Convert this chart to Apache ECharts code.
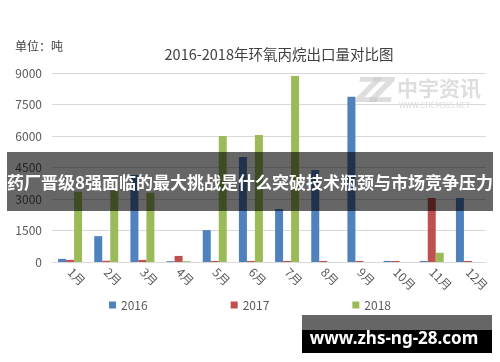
<!DOCTYPE html>
<html><head><meta charset="utf-8">
<script src="https://cdn.jsdelivr.net/npm/echarts@6/dist/echarts.min.js"></script>
<style>html,body{margin:0;padding:0;background:#fff}#c{width:500px;height:362px}</style>
</head><body><div id="c"></div>
<script>
const categories = ['1月','2月','3月','4月','5月','6月','7月','8月','9月','10月','11月','12月'];
const s2016 = [150, 1230, 4140, 40, 1520, 5000, 2520, 4380, 7870, 50, 50, 3050];
const s2017 = [100, 60, 100, 290, 50, 50, 50, 50, 50, 50, 3050, 50];
const s2018 = [3350, 3400, 3300, 40, 6000, 6050, 8860, null, null, null, 440, null];
const yTicks = {min: 0, max: 9000, interval: 1500};
const seriesNames = ['2016', '2017', '2018'];
const colors = ['#4f81bd', '#c0504d', '#9bbb59'];
const font = '"Noto Sans CJK SC", "Noto Sans", sans-serif';

const chart = echarts.init(document.getElementById('c'));
chart.setOption({
  animation: false,
  color: colors,
  textStyle: {fontFamily: font},
  title: {
    text: '2016-2018年环氧丙烷出口量对比图',
    left: 274, top: 42, textAlign: 'center',
    textStyle: {fontSize: 14.5, fontWeight: 'normal', color: '#404040', fontFamily: font}
  },
  legend: {
    data: seriesNames, bottom: 46, left: 'center', itemGap: 83,
    itemWidth: 7, itemHeight: 7, icon: 'rect',
    textStyle: {fontSize: 12, color: '#595959', fontFamily: font}
  },
  grid: {left: 52, right: 14, top: 73, bottom: 100, containLabel: false},
  xAxis: {
    type: 'category', data: categories,
    axisLine: {lineStyle: {color: '#d9d9d9'}},
    axisTick: {show: false},
    axisLabel: {rotate: -45, fontSize: 12, color: '#595959', margin: 8, interval: 0, fontFamily: font}
  },
  yAxis: {
    type: 'value', min: yTicks.min, max: yTicks.max, interval: yTicks.interval,
    axisLine: {show: false}, axisTick: {show: false},
    splitLine: {lineStyle: {color: '#d9d9d9'}},
    axisLabel: {fontSize: 12, color: '#595959', margin: 10, fontFamily: font, formatter: v => String(v)}
  },
  series: [
    {name: seriesNames[0], type: 'bar', data: s2016, barWidth: 8, barGap: '0%'},
    {name: seriesNames[1], type: 'bar', data: s2017, barWidth: 8, barGap: '0%'},
    {name: seriesNames[2], type: 'bar', data: s2018, barWidth: 8, barGap: '0%'}
  ],
  graphic: [
    {type: 'text', left: 15, top: 40, style: {text: '单位：吨', fontSize: 12, fill: '#404040', fontFamily: font}},
    {type: 'text', left: 356, top: 76, style: {text: 'Z', fontSize: 34, fontWeight: 'bold', fontStyle: 'italic', fill: 'rgba(200,200,200,0.6)', fontFamily: 'DejaVu Sans'}},
    {type: 'text', left: 370, top: 76, style: {text: 'Z', fontSize: 34, fontWeight: 'bold', fontStyle: 'italic', fill: 'rgba(200,200,200,0.6)', fontFamily: 'DejaVu Sans'}},
    {type: 'text', left: 397, top: 78, style: {text: '中宇资讯', fontSize: 21, fontWeight: 'bold', fill: 'rgba(200,200,200,0.6)', fontFamily: font}},
    {type: 'text', left: 399, top: 101, style: {text: 'WWW.CHEM365.NET', fontSize: 7.5, fill: 'rgba(200,200,200,0.7)', fontFamily: font}},
    {type: 'rect', shape: {x: 7, y: 152, width: 486, height: 59}, style: {fill: 'rgba(0,0,0,0.6)'}, z: 100},
    {type: 'text', x: 250, y: 183, z: 101, style: {text: '药厂晋级8强面临的最大挑战是什么突破技术瓶颈与市场竞争压力', fontSize: 17, fontWeight: 'bold', fill: '#fff', align: 'center', verticalAlign: 'middle', fontFamily: font}},
    {type: 'rect', shape: {x: 302, y: 315, width: 190, height: 15}, style: {fill: '#666666'}, z: 100},
    {type: 'rect', shape: {x: 302, y: 330, width: 190, height: 23}, style: {fill: '#000000'}, z: 100},
    {type: 'text', x: 394, y: 339, z: 101, style: {text: 'www.zhs-ng-28.com', fontSize: 17, fontWeight: 'bold', fill: '#fff', align: 'center', verticalAlign: 'middle', fontFamily: '"Noto Sans", sans-serif'}}
  ]
});
</script></body></html>
